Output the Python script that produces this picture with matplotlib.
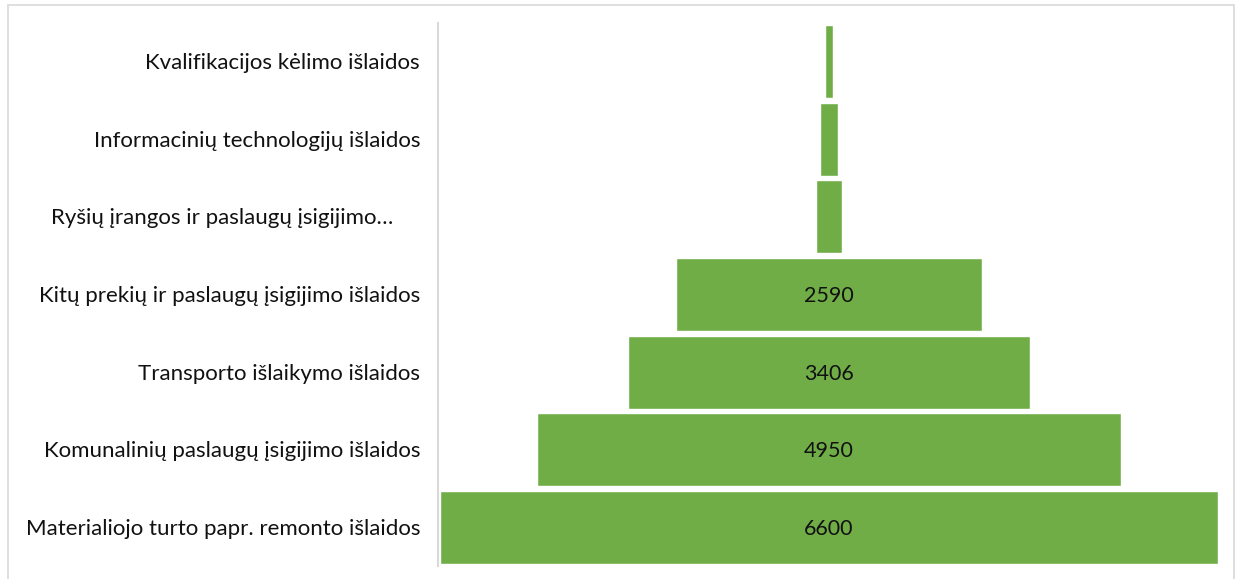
import matplotlib
matplotlib.use("Agg")
import matplotlib.pyplot as plt
from matplotlib.patches import Rectangle
from matplotlib.transforms import blended_transform_factory, offset_copy
import numpy as np

categories = [
    "Kvalifikacijos kėlimo išlaidos",
    "Informacinių technologijų išlaidos",
    "Ryšių įrangos ir paslaugų įsigijimo…",
    "Kitų prekių ir paslaugų įsigijimo išlaidos",
    "Transporto išlaikymo išlaidos",
    "Komunalinių paslaugų įsigijimo išlaidos",
    "Materialiojo turto papr. remonto išlaidos",
]
values = [76, 161, 220, 2590, 3406, 4950, 6600]
show_label = [False, False, False, True, True, True, True]
truncated = [False, False, True, False, False, False, False]

plt.rcParams['font.family'] = ['Lato', 'DejaVu Sans']

W, H = 1235, 579
fig = plt.figure(figsize=(W / 100, H / 100), dpi=100)
fig.patch.set_facecolor('white')

# chart frame (bottom edge falls outside the image)
fig.patches.append(Rectangle((8 / W, -5 / H), (1234 - 8) / W, (574 + 5) / H,
                             transform=fig.transFigure, fill=False,
                             edgecolor='#d9d9d9', linewidth=1.2))

left_px, right_px = 438, 1220
top_px, bot_px = 23, 566
ax = fig.add_axes([left_px / W, 1 - bot_px / H, (right_px - left_px) / W, (bot_px - top_px) / H])

vals = np.array(values, dtype=float)
y = np.arange(len(categories))
ax.barh(y, vals, left=-vals / 2, height=0.94, color='#70AD47',
        edgecolor='white', linewidth=1.0)

down = offset_copy(ax.transData, fig=fig, x=0, y=-1.5, units='dots')
for yi, v, s in zip(y, vals, show_label):
    if s:
        ax.text(0, yi, f"{int(v)}", ha='center', va='center', fontsize=15.5,
                color='#111111', transform=down)

half = vals.max() / 2
ax.set_xlim(-half - 17, half + 17)
ax.set_ylim(len(categories) - 0.5, -0.5)
ax.set_yticks([])
ax.set_xticks([])

# category labels (right-aligned; truncated one centered in label area)
trans = offset_copy(blended_transform_factory(fig.transFigure, ax.transData),
                    fig=fig, x=0, y=-1.5, units='dots')
for yi, lab, tr in zip(y, categories, truncated):
    if tr:
        ax.text(222 / W, yi, lab, transform=trans, ha='center', va='center',
                fontsize=16, color='#111111')
    else:
        ax.text(420 / W, yi, lab, transform=trans, ha='right', va='center',
                fontsize=16, color='#111111')

for sp in ['top', 'right', 'bottom']:
    ax.spines[sp].set_visible(False)
ax.spines['left'].set_color('#d9d9d9')
ax.spines['left'].set_linewidth(1.5)

fig.savefig('out.png', dpi=100)
